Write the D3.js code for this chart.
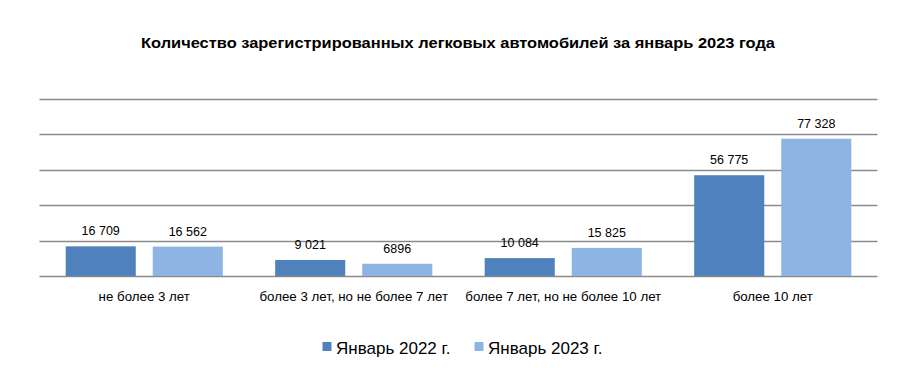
<!DOCTYPE html>
<html><head><meta charset="utf-8">
<script src="https://cdn.jsdelivr.net/npm/d3@7"></script>
<style>body{margin:0;background:#fff;} svg{display:block;font-family:"Liberation Sans",Arial,sans-serif;}</style>
</head><body>
<svg id="c" width="904" height="377"></svg>
<script>
const categories = ["не более 3 лет", "более 3 лет, но не более 7 лет", "более 7 лет, но не более 10 лет", "более 10 лет"];
const seriesNames = ["Январь 2022 г.", "Январь 2023 г."];
const values2022 = [16709, 9021, 10084, 56775];
const values2023 = [16562, 6896, 15825, 77328];
const labels2022 = ["16 709", "9 021", "10 084", "56 775"];
const labels2023 = ["16 562", "6896", "15 825", "77 328"];
const yTicks = [0, 20000, 40000, 60000, 80000, 100000];
const colors = ["#4f81bd", "#8eb4e3"];

(function(){
const svg = d3.select("#c");
const pLeft = 39.5, pRight = 877.5, pTop = 98.5, pBottom = 276;
const x0 = d3.scaleBand().domain(categories).range([pLeft, pRight]).paddingInner(0.25).paddingOuter(0.125);
const x1 = d3.scaleBand().domain([0,1]).range([0, x0.bandwidth()]).paddingInner(0.195);
const y = d3.scaleLinear().domain([0, 100000]).range([pBottom, pTop]);

svg.append("text").attr("x", 458).attr("y", 48).attr("text-anchor", "middle")
  .attr("font-size", 15.5).attr("font-weight", "bold").attr("fill", "#000")
  .attr("textLength", 634).attr("lengthAdjust", "spacingAndGlyphs")
  .text("Количество зарегистрированных легковых автомобилей за январь 2023 года");

svg.append("g").selectAll("line").data(yTicks).join("line")
  .attr("x1", pLeft).attr("x2", pRight)
  .attr("y1", d => Math.round(y(d)) + 0.5).attr("y2", d => Math.round(y(d)) + 0.5)
  .attr("stroke", "#8a8a8a").attr("stroke-width", 1.5);

const series = [values2022, values2023];
const labs = [labels2022, labels2023];
series.forEach((vals, si) => {
  const g = svg.append("g");
  g.selectAll("rect").data(vals).join("rect")
    .attr("x", (d, i) => x0(categories[i]) + x1(si))
    .attr("width", x1.bandwidth())
    .attr("y", d => y(d))
    .attr("height", d => pBottom - y(d))
    .attr("fill", colors[si]);
  g.selectAll("text").data(vals).join("text")
    .attr("x", (d, i) => x0(categories[i]) + x1(si) + x1.bandwidth() / 2)
    .attr("y", d => y(d) - 11)
    .attr("text-anchor", "middle").attr("font-size", 12.5).attr("fill", "#000")
    .text((d, i) => labs[si][i]);
});

const xAxis = svg.append("g").attr("transform", `translate(0,${pBottom})`)
  .call(d3.axisBottom(x0).tickSize(0).tickPadding(16));
xAxis.select(".domain").remove();
xAxis.selectAll("text").attr("font-size", 13.3).attr("fill", "#000")
  .attr("font-family", "Liberation Sans, Arial, sans-serif");

const legendX = [322.5, 474.5];
const lg = svg.append("g");
seriesNames.forEach((n, i) => {
  lg.append("rect").attr("x", legendX[i]).attr("y", 342).attr("width", 9).attr("height", 9).attr("fill", colors[i]);
  lg.append("text").attr("x", legendX[i] + 13.5).attr("y", 353.5).attr("font-size", 17).attr("fill", "#000").text(n);
});
})();
</script>
</body></html>
